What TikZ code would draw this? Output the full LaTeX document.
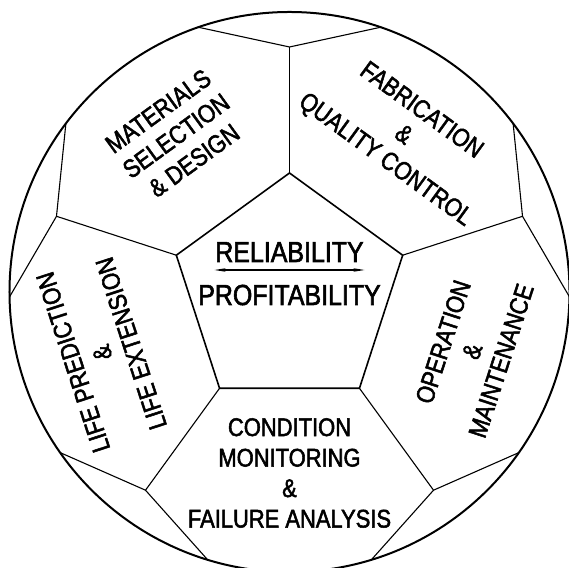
\documentclass[tikz,border=0pt]{standalone}
\usepackage{fontspec}
\setmainfont{Liberation Sans}
\newfontfamily\ballfont[FakeStretch=0.86, FakeBold=2]{Liberation Sans}
\usetikzlibrary{arrows.meta}
\definecolor{seamblack}{HTML}{000000}

\begin{document}
\begin{tikzpicture}[x=1bp, y=1bp, >={Stealth[length=11bp, width=3.5bp]}, line width=1.1bp, seamblack,
  paneltext/.style={align=center, inner sep=0pt, font=\ballfont\fontsize{25.5bp}{30.5bp}\selectfont},
  coretext/.style={inner sep=0pt, anchor=base, font=\ballfont\fontsize{29bp}{34bp}\selectfont}]
  \useasboundingbox (0,0) rectangle (569,568);
  \clip (0,0) rectangle (569,568);
  \begin{scope}[shift={(289.5,276)}]
    % seams of the ball
    \foreach \i/\a in {1/90, 2/18, 3/-54, 4/-126, 5/162} {
      \coordinate (P\i) at (\a:119);
      \coordinate (Q\i) at (\a:245);
      \coordinate (L\i) at (\a-19:280);
      \coordinate (R\i) at (\a+19:280);
      \draw (P\i) -- (Q\i);
      \draw (L\i) -- (Q\i) -- (R\i);
    }
    \draw[line width=1.6bp] (P1) -- (P2) -- (P3) -- (P4) -- (P5) -- cycle;
    \draw[line width=2bp] (0,0) circle (280bp);

    \node[coretext] (reliability) at (0,30) {RELIABILITY};
    \node[coretext] (profitability) at (0,-13) {PROFITABILITY};
    \coordinate (balanceL) at (-75,22);
    \coordinate (balanceR) at (75,22);
    \draw[<->, line width=1.2bp] (balanceL) -- (balanceR);

    \node[paneltext, rotate=36] (materials) at (126:193) {MATERIALS\\SELECTION\\\& DESIGN};
    \node[paneltext, rotate=-36] (fabrication) at (54:193) {FABRICATION\\\&\\QUALITY CONTROL};
    \node[paneltext, rotate=72] (operation) at (-18:192) {OPERATION\\\&\\MAINTENANCE};
    \node[paneltext] (condition) at (-90:181) {CONDITION\\MONITORING\\\&\\FAILURE ANALYSIS};
    \node[paneltext, rotate=108] (life) at (-162:197) {LIFE PREDICTION\\\&\\LIFE EXTENSION};
  \end{scope}
\end{tikzpicture}
\end{document}
